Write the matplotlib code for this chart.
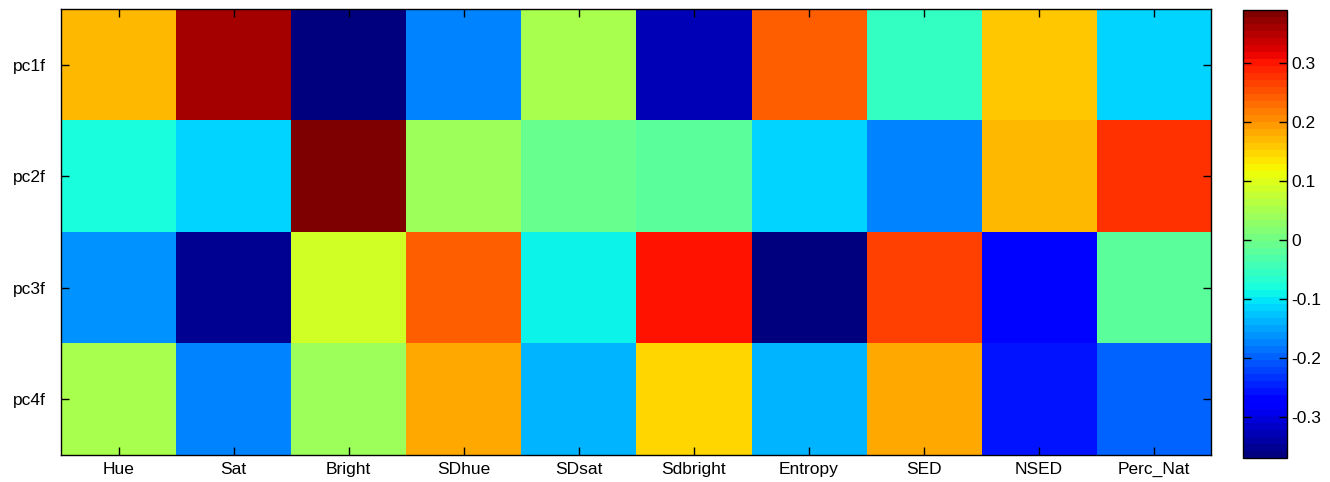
import numpy as np
import matplotlib
matplotlib.use("Agg")
import matplotlib.pyplot as plt

plt.rcParams['font.family'] = ['Liberation Sans', 'DejaVu Sans']

features = ['Hue', 'Sat', 'Bright', 'SDhue', 'SDsat', 'Sdbright',
            'Entropy', 'SED', 'NSED', 'Perc_Nat']
components = ['pc1f', 'pc2f', 'pc3f', 'pc4f']

# loadings
pc1f = [0.17, 0.36, -0.37, -0.17, 0.055, -0.325, 0.24, -0.06, 0.155, -0.115]
pc2f = [-0.08, -0.11, 0.39, 0.035, -0.005, -0.017, -0.112, -0.17, 0.17, 0.283]
pc3f = [-0.165, -0.35, 0.09, 0.245, -0.09, 0.30, -0.365, 0.27, -0.264, -0.025]
pc4f = [0.055, -0.17, 0.035, 0.18, -0.135, 0.147, -0.135, 0.18, -0.252, -0.20]

data = np.array([pc1f, pc2f, pc3f, pc4f])

fig = plt.figure(figsize=(13.3, 4.82), dpi=100)
ax = fig.add_axes([0.0459, 0.056, 0.865, 0.925])
cax = fig.add_axes([0.9346, 0.050, 0.0331, 0.929])

cmap = plt.get_cmap('jet', 64)
im = ax.imshow(data, cmap=cmap, aspect='auto', interpolation='nearest',
               vmin=data.min(), vmax=data.max())

ax.set_xticks(np.arange(len(features)))
ax.set_xticklabels(features, fontsize=12.5)
ax.set_yticks(np.arange(len(components)))
ax.set_yticklabels(components, fontsize=12.5)
ax.tick_params(direction='in', top=True, right=True, length=6, width=1)
ax.tick_params(axis='x', pad=5)
ax.tick_params(axis='y', pad=11)
for s in ax.spines.values():
    s.set_linewidth(1)

cb = fig.colorbar(im, cax=cax)
cb.set_ticks([-0.3, -0.2, -0.1, 0, 0.1, 0.2, 0.3])
cb.set_ticklabels(['-0.3', '-0.2', '-0.1', '0', '0.1', '0.2', '0.3'])
cb.ax.tick_params(direction='in', left=True, right=True, length=6, width=1,
                  labelsize=12.5, pad=3)
cb.outline.set_linewidth(1)

fig.savefig('out.png', dpi=100)
